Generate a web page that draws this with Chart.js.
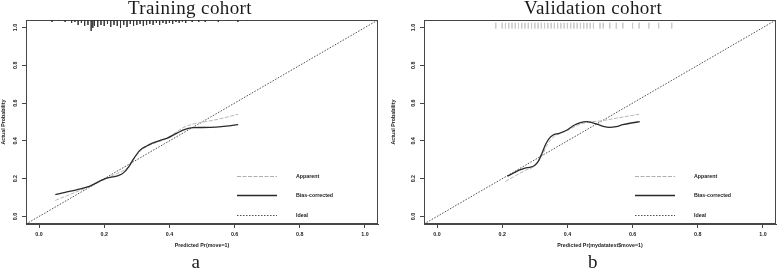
<!DOCTYPE html>
<html><head><meta charset="utf-8">
<script src="https://cdn.jsdelivr.net/npm/chart.js@4.4.1/dist/chart.umd.min.js"></script>
<style>
html,body{margin:0;padding:0;background:#fff;}
body{width:777px;height:270px;position:relative;overflow:hidden;}
.panel{position:absolute;top:0;height:270px;}
.ttl{position:absolute;font-family:"Liberation Serif",serif;font-size:19px;line-height:19px;color:#1a1a1a;white-space:nowrap;letter-spacing:0.4px;transform:translateX(-50%);}
</style></head><body>
<div class="panel" style="left:0;width:390px"><canvas id="c1" width="390" height="270"></canvas></div>
<div class="panel" style="left:390px;width:387px"><canvas id="c2" width="387" height="270"></canvas></div>
<div class="ttl" style="left:190px;top:-2px">Training cohort</div>
<div class="ttl" style="left:593px;top:-2px">Validation cohort</div>
<div class="ttl" style="left:196px;top:252px">a</div>
<div class="ttl" style="left:593px;top:252px">b</div>
<script>
// ---- data ----
const axisTicks = [0, 0.2, 0.4, 0.6, 0.8, 1.0];
const axisMin = -0.04, axisMax = 1.04;
const legendLabels = ['Apparent', 'Bias-corrected', 'Ideal'];

const idealX = [-0.04, 1.04];
const idealY = [-0.04, 1.04];

const trainBiasX = [0.05, 0.08, 0.12, 0.156, 0.2, 0.225, 0.243, 0.26, 0.275, 0.29, 0.31, 0.33, 0.346, 0.37, 0.392, 0.422, 0.448, 0.473, 0.5, 0.525, 0.56, 0.611];
const trainBiasY = [0.115, 0.127, 0.143, 0.161, 0.198, 0.209, 0.216, 0.232, 0.262, 0.305, 0.351, 0.373, 0.387, 0.402, 0.413, 0.44, 0.461, 0.47, 0.471, 0.472, 0.476, 0.486];
const trainAppX = [0.05, 0.1, 0.15, 0.2, 0.24, 0.27, 0.29, 0.31, 0.33, 0.35, 0.39, 0.42, 0.44, 0.47, 0.5, 0.55, 0.611];
const trainAppY = [0.085, 0.12, 0.155, 0.196, 0.228, 0.255, 0.3, 0.345, 0.37, 0.385, 0.412, 0.445, 0.468, 0.488, 0.498, 0.515, 0.541];

const validBiasX = [0.216, 0.235, 0.252, 0.27, 0.283, 0.298, 0.31, 0.322, 0.334, 0.345, 0.355, 0.375, 0.396, 0.422, 0.44, 0.458, 0.475, 0.493, 0.51, 0.529, 0.55, 0.57, 0.6, 0.622];
const validBiasY = [0.213, 0.23, 0.245, 0.256, 0.26, 0.268, 0.29, 0.335, 0.385, 0.415, 0.43, 0.44, 0.455, 0.484, 0.497, 0.502, 0.497, 0.487, 0.477, 0.472, 0.476, 0.486, 0.496, 0.502];
const validAppX = [0.21, 0.24, 0.27, 0.3, 0.32, 0.34, 0.36, 0.38, 0.4, 0.43, 0.46, 0.5, 0.55, 0.62];
const validAppY = [0.185, 0.215, 0.243, 0.268, 0.315, 0.385, 0.425, 0.44, 0.455, 0.482, 0.498, 0.505, 0.52, 0.541];

// rug (distribution of predictions): positions and relative frequencies
const trainRugX = [0.04,0.06,0.08,0.10,0.11,0.12,0.13,0.14,0.15,0.16,0.165,0.17,0.18,0.19,0.20,0.21,0.22,0.23,0.24,0.25,0.26,0.27,0.28,0.29,0.30,0.31,0.32,0.33,0.34,0.35,0.36,0.37,0.38,0.39,0.40,0.41,0.42,0.43,0.44,0.45,0.47,0.49,0.51,0.53,0.55,0.58,0.61,0.64];
const trainRugN = [2,1,2,3,2,5,3,6,5,11,8,6,7,5,6,4,7,5,6,8,5,7,4,6,5,4,6,5,4,5,3,5,3,4,3,4,2,3,2,3,2,2,2,1,2,1,2,1];
const validRugX = [0.18,0.20,0.21,0.22,0.23,0.24,0.25,0.26,0.27,0.28,0.29,0.30,0.31,0.32,0.33,0.34,0.35,0.36,0.37,0.38,0.39,0.40,0.41,0.42,0.43,0.44,0.45,0.46,0.47,0.48,0.50,0.51,0.53,0.55,0.57,0.60,0.62,0.65,0.68,0.72];

// ---- helpers ----
const pts = (xs, ys) => xs.map((x, i) => ({x: x, y: ys[i]}));
function rugPoints(xs, top, lens) {
  const out = [];
  xs.forEach((x, i) => {
    out.push({x: x, y: top});
    out.push({x: x, y: top - lens[i]});
    out.push({x: x, y: null});
  });
  return out;
}
const SANS = {family: '"Liberation Sans", Arial, sans-serif', size: 5.3, weight: 'bold'};

const framePlugin = {
  id: 'frame',
  beforeDatasetsDraw(chart) {
    const a = chart.chartArea, c = chart.ctx;
    c.save(); c.strokeStyle = '#474747'; c.lineWidth = 1;
    c.strokeRect(Math.round(a.left) + 0.5, Math.round(a.top) + 0.5, Math.round(a.right - a.left) - 1, Math.round(a.bottom - a.top) - 1);
    c.restore();
  }
};
const legendPlugin = {
  id: 'calLegend',
  afterDatasetsDraw(chart) {
    const a = chart.chartArea, c = chart.ctx;
    const styles = [
      {color: '#b0b0b0', width: 1, dash: [4, 1.5]},
      {color: '#2a2a2a', width: 1.3, dash: []},
      {color: '#3a3a3a', width: 0.9, dash: [1.5, 1.5]}
    ];
    const rows = [-48.3, -28.7, -9.3];
    c.save();
    legendLabels.forEach((lab, i) => {
      const y = Math.round(a.bottom + rows[i]) + 0.5;
      c.beginPath(); c.strokeStyle = styles[i].color; c.lineWidth = styles[i].width; c.setLineDash(styles[i].dash);
      c.moveTo(a.right - 141, y); c.lineTo(a.right - 101, y); c.stroke();
      c.setLineDash([]);
      c.fillStyle = '#222'; c.font = 'bold 5.3px "Liberation Sans", Arial, sans-serif';
      c.textAlign = 'left'; c.textBaseline = 'middle';
      c.fillText(lab, a.right - 82, y);
    });
    c.restore();
  }
};

function makeChart(id, cfg) {
  const datasets = [
    {data: pts(cfg.biasX, cfg.biasY), borderColor: '#2a2a2a', borderWidth: 1.3, cubicInterpolationMode: 'monotone', order: 0},
    {data: pts(cfg.appX, cfg.appY), borderColor: '#b8b8b8', borderWidth: 1, borderDash: [4, 1.5], cubicInterpolationMode: 'monotone', order: 1},
    {data: pts(idealX, idealY), borderColor: '#3a3a3a', borderWidth: 0.9, borderDash: [1.5, 1.5], order: 2},
    {data: cfg.rug, borderColor: cfg.rugColor, borderWidth: 0.8, spanGaps: false, tension: 0, order: 3}
  ].map(d => Object.assign({showLine: true, pointRadius: 0, pointHoverRadius: 0, fill: false}, d));

  return new Chart(document.getElementById(id), {
    type: 'scatter',
    data: {datasets},
    plugins: [framePlugin, legendPlugin],
    options: {
      responsive: false, animation: false, events: [],
      layout: {padding: {left: 0, top: 20, right: cfg.padRight, bottom: 21}},
      plugins: {legend: {display: false}, tooltip: {enabled: false}, title: {display: false}},
      scales: {
        x: {
          type: 'linear', min: axisMin, max: axisMax, position: 'bottom',
          afterBuildTicks: s => { s.ticks = axisTicks.map(v => ({value: v})); },
          afterFit: s => { s.height = 25; },
          ticks: {font: SANS, color: '#222', padding: 3.1, autoSkip: false, maxRotation: 0, callback: v => Number(v).toFixed(1)},
          grid: {display: true, drawOnChartArea: false, drawTicks: true, tickLength: 4, color: '#474747', tickWidth: 1},
          border: {display: true, color: '#474747', width: 1},
          title: {display: true, text: cfg.xTitle, font: SANS, color: '#222', padding: 0}
        },
        y: {
          type: 'linear', min: axisMin, max: axisMax, position: 'left',
          afterBuildTicks: s => { s.ticks = axisTicks.map(v => ({value: v})); },
          afterFit: s => { s.width = cfg.yWidth; },
          ticks: {font: SANS, color: '#222', padding: 3.2, autoSkip: false, minRotation: 90, maxRotation: 90, crossAlign: 'center', callback: v => Number(v).toFixed(1)},
          grid: {display: true, drawOnChartArea: false, drawTicks: true, tickLength: 4, color: '#474747', tickWidth: 1},
          border: {display: true, color: '#474747', width: 1},
          title: {display: true, text: 'Actual Probability', font: SANS, color: '#222', padding: 0}
        }
      }
    }
  });
}

const RUG_UNIT = 0.0053;
makeChart('c1', {
  biasX: trainBiasX, biasY: trainBiasY, appX: trainAppX, appY: trainAppY,
  rug: rugPoints(trainRugX, axisMax, trainRugN.map(n => n * RUG_UNIT)),
  rugColor: '#333', xTitle: 'Predicted Pr(move=1)', padRight: 12, yWidth: 26
});
makeChart('c2', {
  biasX: validBiasX, biasY: validBiasY, appX: validAppX, appY: validAppY,
  rug: rugPoints(validRugX, 1.025, validRugX.map(() => 0.03)),
  rugColor: '#c8c8c8', xTitle: 'Predicted Pr(mydatatest$move=1)', padRight: 1, yWidth: 34
});
</script>
</body></html>
